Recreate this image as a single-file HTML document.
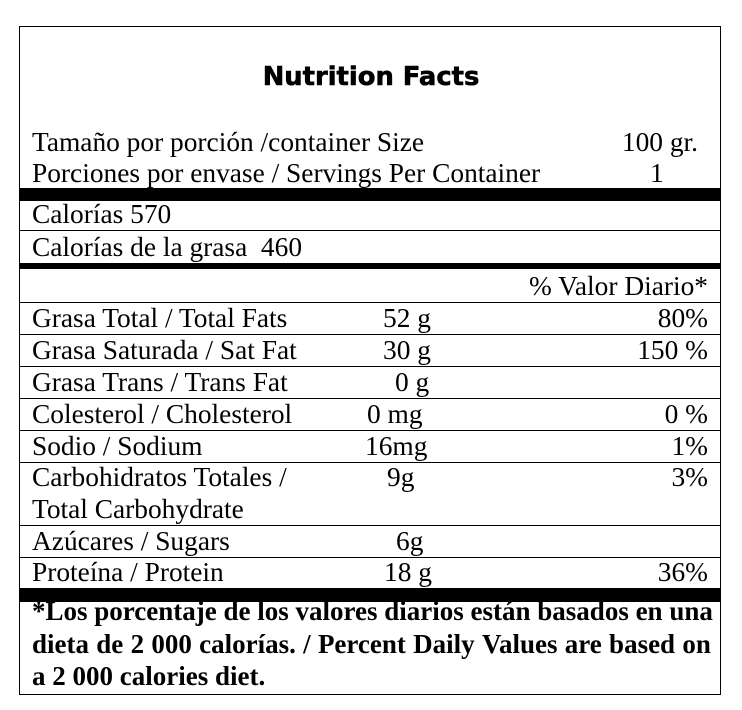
<!DOCTYPE html>
<html>
<head>
<meta charset="utf-8">
<style>
  html, body { margin:0; padding:0; background:#fff; }
  #c { position:relative; width:742px; height:710px; background:#fff; overflow:hidden; }
  .box { position:absolute; left:19px; top:26px; width:702px; height:669px; border:1px solid #000; box-sizing:border-box; }
  .r { position:absolute; left:19px; width:702px; background:#000; }
  .t { position:absolute; font-family:"Liberation Serif", "Times New Roman", serif; font-size:27.4px; line-height:30px; white-space:nowrap; color:#000; }
  .b { font-weight:bold; font-size:27px; }
  .rt { text-align:right; }
  .title { position:absolute; left:0; width:742px; top:62px; text-align:center; font-family:"DejaVu Sans", Verdana, sans-serif; font-weight:bold; font-size:25.8px; line-height:30px; color:#000; -webkit-text-stroke:0.6px #000; }
  .fl { position:absolute; left:32px; width:681px; display:flex; justify-content:space-between; font-family:"Liberation Serif", "Times New Roman", serif; font-weight:bold; font-size:27px; line-height:30px; white-space:nowrap; }
</style>
</head>
<body>
<div id="c">
  <div class="box"></div>

  <!-- rules -->
  <div class="r" style="top:188px;height:13px"></div>
  <div class="r" style="top:230px;height:1px"></div>
  <div class="r" style="top:263px;height:6px"></div>
  <div class="r" style="top:302px;height:1px"></div>
  <div class="r" style="top:334px;height:1px"></div>
  <div class="r" style="top:366px;height:1px"></div>
  <div class="r" style="top:398px;height:1px"></div>
  <div class="r" style="top:430px;height:1px"></div>
  <div class="r" style="top:462px;height:1px"></div>
  <div class="r" style="top:525px;height:1px"></div>
  <div class="r" style="top:557px;height:1px"></div>
  <div class="r" style="top:588px;height:14px"></div>

  <div class="title">Nutrition Facts</div>

  <div class="t" style="left:32px;top:127px">Tamaño por porción /container Size</div>
  <div class="t rt" style="right:44px;top:127px">100 gr.</div>
  <div class="t" style="left:32px;top:158px">Porciones por envase / Servings Per Container</div>
  <div class="t" style="left:650px;top:158px">1</div>

  <div class="t" style="left:32px;top:199px">Calorías 570</div>
  <div class="t" style="left:32px;top:232px">Calorías de la grasa&nbsp; 460</div>

  <div class="t rt" style="right:34px;top:271px">% Valor Diario*</div>

  <div class="t" style="left:32px;top:303px">Grasa Total / Total Fats</div>
  <div class="t" style="left:383px;top:303px">52 g</div>
  <div class="t rt" style="right:34px;top:303px">80%</div>

  <div class="t" style="left:32px;top:335px">Grasa Saturada / Sat Fat</div>
  <div class="t" style="left:383px;top:335px">30 g</div>
  <div class="t rt" style="right:34px;top:335px">150 %</div>

  <div class="t" style="left:32px;top:367px">Grasa Trans / Trans Fat</div>
  <div class="t" style="left:395px;top:367px">0 g</div>

  <div class="t" style="left:32px;top:399px">Colesterol / Cholesterol</div>
  <div class="t" style="left:367px;top:399px">0 mg</div>
  <div class="t rt" style="right:34px;top:399px">0 %</div>

  <div class="t" style="left:32px;top:431px">Sodio / Sodium</div>
  <div class="t" style="left:365px;top:431px">16mg</div>
  <div class="t rt" style="right:34px;top:431px">1%</div>

  <div class="t" style="left:32px;top:462px">Carbohidratos Totales /</div>
  <div class="t" style="left:32px;top:494px">Total Carbohydrate</div>
  <div class="t" style="left:387px;top:462px">9g</div>
  <div class="t rt" style="right:34px;top:462px">3%</div>

  <div class="t" style="left:32px;top:526px">Azúcares / Sugars</div>
  <div class="t" style="left:396px;top:526px">6g</div>

  <div class="t" style="left:32px;top:557px">Proteína / Protein</div>
  <div class="t" style="left:384px;top:557px">18 g</div>
  <div class="t rt" style="right:34px;top:557px">36%</div>

  <div class="fl" style="top:596px">
    <span>*Los</span><span>porcentaje</span><span>de</span><span>los</span><span>valores</span><span>diarios</span><span>están</span><span>basados</span><span>en</span><span>una</span>
  </div>
  <div class="fl" style="top:629px;width:679px">
    <span>dieta</span><span>de</span><span>2</span><span>000</span><span>calorías.</span><span>/</span><span>Percent</span><span>Daily</span><span>Values</span><span>are</span><span>based</span><span>on</span>
  </div>
  <div class="t b" style="left:32px;top:661px">a 2 000 calories diet.</div>
</div>
</body>
</html>
